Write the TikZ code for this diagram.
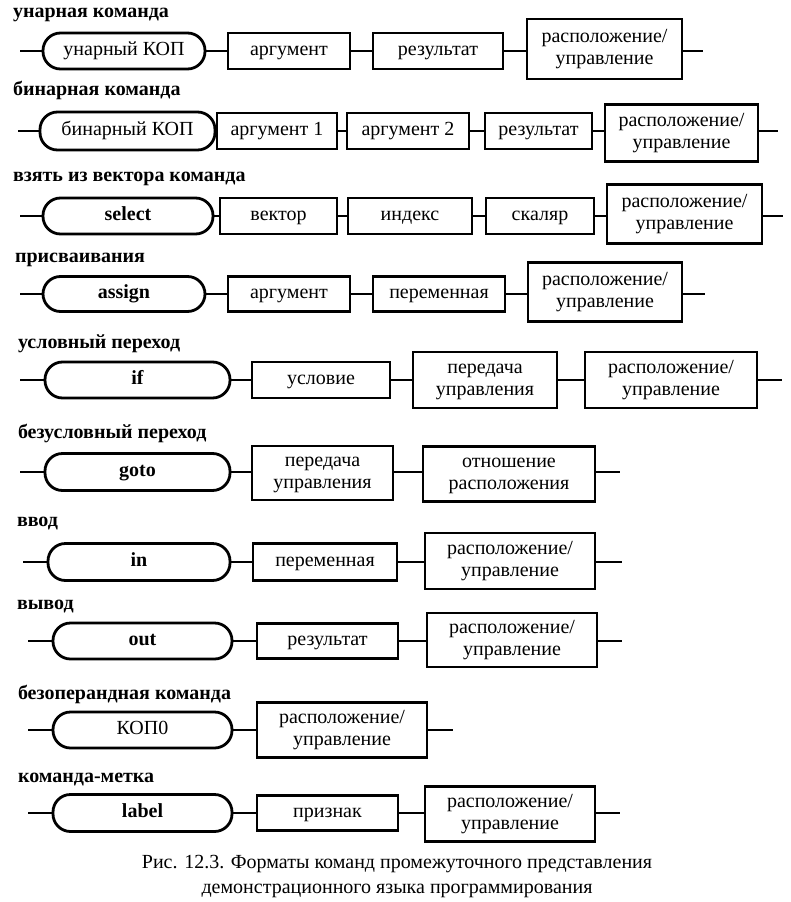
\documentclass[tikz,border=0pt]{standalone}
\usepackage{fontspec}
\setmainfont{Liberation Serif}
\newcommand\two[2]{\begin{tabular}{@{}c@{}}#1\\#2\end{tabular}}
\begin{document}
\begin{tikzpicture}[x=1pt,y=-1pt,
  every node/.style={font=\fontsize{20}{22}\selectfont, inner sep=0pt, outer sep=0pt},
  one/.style={text height=14pt, text depth=4.5pt},
  pill/.style={draw, line width=2.8pt, rounded corners=17.5pt, one},
  pillb/.style={pill, font=\fontsize{20}{22}\selectfont\bfseries},
  fbox/.style={draw, line width=2.8pt, one},
  fboxx/.style={draw, line width=2.8pt},
  conn/.style={line width=2.8pt},
  head/.style={anchor=base west, font=\fontsize{20}{22}\selectfont\bfseries},
  captext/.style={anchor=base, font=\fontsize{20}{22}\selectfont}]
\useasboundingbox (0,0) rectangle (790,902);
\newcommand\bx[7]{\node[#7, minimum width={#3pt-#2pt}, minimum height={#5pt}] (#1) at ({(#2+#3)/2},#4) {#6};}
% ---------- row 1
\node[head] (h1) at (13,17) {унарная команда};
\coordinate (s1) at (20,51);
\bx{p1}{43}{205}{51}{36}{унарный КОП}{pill}
\bx{a1}{228}{350}{51}{36}{аргумент}{fbox}
\bx{b1}{373}{503}{51}{36}{результат}{fbox}
\bx{c1}{527}{682}{49}{60}{\two{расположение/}{управление}}{fboxx}
\coordinate (e1) at (703,51);
\draw[conn] (s1) -- (p1) -- (a1) -- (b1) -- (b1 -| c1.west) (c1.east |- e1) -- (e1);
% ---------- row 2
\node[head] (h2) at (13,95) {бинарная команда};
\coordinate (s2) at (18,131);
\bx{p2}{40}{215}{131}{38}{бинарный КОП}{pill}
\bx{a2}{217}{337}{131}{36}{аргумент 1}{fbox}
\bx{b2}{347}{469}{131}{36}{аргумент 2}{fbox}
\bx{d2}{485}{592}{131}{36}{результат}{fbox}
\bx{c2}{605}{758}{133}{57}{\two{расположение/}{управление}}{fboxx}
\coordinate (e2) at (778,131);
\draw[conn] (s2) -- (p2) -- (a2) -- (b2) -- (d2) -- (d2 -| c2.west) (c2.east |- e2) -- (e2);
% ---------- row 3
\node[head] (h3) at (13,181) {взять из вектора команда};
\coordinate (s3) at (20,216);
\bx{p3}{43}{213}{216}{36}{select}{pillb}
\bx{a3}{220}{337}{216}{36}{вектор}{fbox}
\bx{b3}{348}{472}{216}{36}{индекс}{fbox}
\bx{d3}{486}{594}{216}{36}{скаляр}{fbox}
\bx{c3}{607}{762}{214}{59}{\two{расположение/}{управление}}{fboxx}
\coordinate (e3) at (783,216);
\draw[conn] (s3) -- (p3) -- (a3) -- (b3) -- (d3) -- (d3 -| c3.west) (c3.east |- e3) -- (e3);
% ---------- row 4
\node[head] (h4) at (15,262) {присваивания};
\coordinate (s4) at (20,294);
\bx{p4}{43}{205}{294}{35}{assign}{pillb}
\bx{a4}{228}{350}{294}{35}{аргумент}{fbox}
\bx{b4}{373}{505}{294}{35}{переменная}{fbox}
\bx{c4}{528}{682}{292}{59}{\two{расположение/}{управление}}{fboxx}
\coordinate (e4) at (705,294);
\draw[conn] (s4) -- (p4) -- (a4) -- (b4) -- (b4 -| c4.west) (c4.east |- e4) -- (e4);
% ---------- row 5
\node[head] (h5) at (18,348) {условный переход};
\coordinate (s5) at (20,380);
\bx{p5}{45}{230}{380}{36}{if}{pillb}
\bx{a5}{252}{390}{380}{36}{условие}{fbox}
\bx{b5}{413}{557}{380}{56}{\two{передача}{управления}}{fboxx}
\bx{c5}{585}{757}{380}{56}{\two{расположение/}{управление}}{fboxx}
\coordinate (e5) at (782,380);
\draw[conn] (s5) -- (p5) -- (a5) -- (b5) -- (c5) -- (e5);
% ---------- row 6
\node[head] (h6) at (18,438) {безусловный переход};
\coordinate (s6) at (20,472);
\bx{p6}{45}{230}{472}{37}{goto}{pillb}
\bx{a6}{252}{393}{473}{54}{\two{передача}{управления}}{fboxx}
\bx{b6}{423}{595}{474}{55}{\two{отношение}{расположения}}{fboxx}
\coordinate (e6) at (620,472);
\draw[conn] (s6) -- (p6) -- (p6 -| a6.west) (a6.east |- e6) -- (e6 -| b6.west) (b6.east |- e6) -- (e6);
% ---------- row 7
\node[head] (h7) at (17,526) {ввод};
\coordinate (s7) at (23,562);
\bx{p7}{48}{230}{562}{37}{in}{pillb}
\bx{a7}{253}{397}{562}{37}{переменная}{fbox}
\bx{c7}{425}{595}{561}{56}{\two{расположение/}{управление}}{fboxx}
\coordinate (e7) at (622,562);
\draw[conn] (s7) -- (p7) -- (a7) -- (a7 -| c7.west) (c7.east |- e7) -- (e7);
% ---------- row 8
\node[head] (h8) at (17,609) {вывод};
\coordinate (s8) at (28,641);
\bx{p8}{53}{232}{641}{36}{out}{pillb}
\bx{a8}{257}{398}{641}{35}{результат}{fbox}
\bx{c8}{427}{597}{640}{54}{\two{расположение/}{управление}}{fboxx}
\coordinate (e8) at (622,641);
\draw[conn] (s8) -- (p8) -- (a8) -- (a8 -| c8.west) (c8.east |- e8) -- (e8);
% ---------- row 9
\node[head] (h9) at (18,699) {безоперандная команда};
\coordinate (s9) at (28,730);
\bx{p9}{53}{232}{730}{36}{КОП0}{pill}
\bx{c9}{257}{427}{730}{55}{\two{расположение/}{управление}}{fboxx}
\coordinate (e9) at (453,730);
\draw[conn] (s9) -- (p9) -- (c9) -- (e9);
% ---------- row 10
\node[head] (h10) at (18,782) {команда-метка};
\coordinate (s10) at (28,813);
\bx{p10}{53}{232}{813}{37}{label}{pillb}
\bx{a10}{257}{398}{813}{35}{признак}{fbox}
\bx{c10}{425}{595}{814}{55}{\two{расположение/}{управление}}{fboxx}
\coordinate (e10) at (620,813);
\draw[conn] (s10) -- (p10) -- (a10) -- (a10 -| c10.west) (c10.east |- e10) -- (e10);
% ---------- caption
\node[captext] (cap1) at (397,868) {Рис. 12.3. Форматы команд промежуточного представления};
\node[captext] (cap2) at (397,893) {демонстрационного языка программирования};
\end{tikzpicture}
\end{document}
